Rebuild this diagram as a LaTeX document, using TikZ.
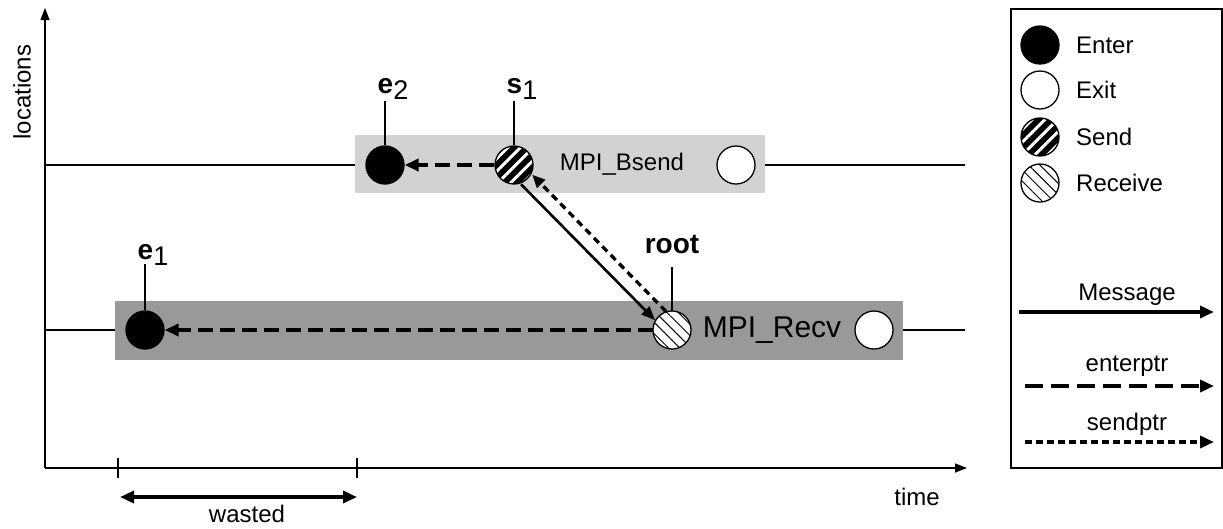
\documentclass[tikz,border=0pt]{standalone}
\usepackage{fontspec}
\setmainfont{Liberation Sans}
\usetikzlibrary{patterns.meta,arrows.meta}
\begin{document}
\begin{tikzpicture}[x=1pt,y=-1pt,
  ev/.style={circle, draw=black, line width=1.3pt, minimum size=38pt, inner sep=0pt},
  enterev/.style={ev, fill=black},
  exitev/.style={ev, fill=white},
  sendev/.style={ev, preaction={fill=black}, pattern={Lines[angle=45,distance=9pt,line width=3pt]}, pattern color=white},
  recvev/.style={ev, preaction={fill=white}, pattern={Lines[angle=-45,distance=8pt,line width=1pt]}, pattern color=black},
  txt/.style={font=\fontsize{24}{28}\selectfont, inner sep=0pt},
  lab/.style={font=\fontsize{28}{30}\selectfont\bfseries, inner sep=0pt},
  axis/.style={line width=1.3pt, -{Triangle[length=12pt,width=9pt]}},
  thin/.style={line width=1.2pt},
  msg/.style={line width=2.6pt, -{Triangle[length=14pt,width=11pt]}},
  enterptr/.style={line width=4pt, dash pattern=on 15pt off 7pt, -{Triangle[length=14pt,width=12pt]}},
  sendptr/.style={line width=3.3pt, dash pattern=on 7pt off 5pt, -{Triangle[length=13pt,width=11pt]}},
  sendptrleg/.style={line width=4pt, dash pattern=on 7pt off 4pt, -{Triangle[length=14pt,width=12pt]}},
  enterptrleg/.style={line width=4pt, dash pattern=on 18pt off 8pt, -{Triangle[length=14pt,width=12pt]}},
  msgleg/.style={line width=4pt, -{Triangle[length=14pt,width=12pt]}}
]
\useasboundingbox (0,0) rectangle (1223,528);
% axes
\coordinate (O) at (45,468);
\coordinate (ytop) at (45,8);
\coordinate (xend) at (967,468);
\draw[axis] (O) -- (ytop);
\draw[axis] (O) -- (xend);
\node[txt, rotate=90] (loc) at (22,92) {locations};
\node[txt] (time) at (917,497) {time};
% location lines
\coordinate (l1a) at (45,165); \coordinate (l1b) at (965,165);
\coordinate (l2a) at (45,330); \coordinate (l2b) at (965,330);
\draw[thin] (l1a) -- (l1b);
\draw[thin] (l2a) -- (l2b);
% gray boxes
\fill[gray!35] (355,135) rectangle (765,193);
\fill[black!40] (115,301) rectangle (903,360);
% events
\node[enterev] (e2) at (385,165) {};
\node[sendev] (s1) at (514,165) {};
\node[txt] (bsend) at (622,164) {MPI\_Bsend};
\node[exitev] (x2) at (736,165) {};
\node[enterev] (e1) at (145,330) {};
\node[recvev] (recv) at (672,330) {};
\node[txt, font=\fontsize{30}{34}\selectfont] (mrecv) at (772,330) {MPI\_Recv};
\node[exitev] (x1) at (874,330) {};
% labels
\node[lab] (e2lab) at (393,89) {e\raisebox{-6pt}{\fontsize{27}{30}\mdseries\selectfont 2}};
\node[lab] (s1lab) at (522,89) {s\raisebox{-6pt}{\fontsize{27}{30}\mdseries\selectfont 1}};
\node[lab] (e1lab) at (153,255) {e\raisebox{-6pt}{\fontsize{27}{30}\mdseries\selectfont 1}};
\node[lab] (rootlab) at (672,244) {root};
\draw[thin] (e2.north) -- ++(0,-44);
\draw[thin] (s1.north) -- ++(0,-44);
\draw[thin] (e1.north) -- ++(0,-46);
\draw[thin] (recv.north) -- ++(0,-44);
% pointers
\draw[enterptr] (s1.west) -- (e2.east);
\draw[enterptr] (recv.west) -- (e1.east);
\draw[msg] (s1.-70) -- (recv.150);
\draw[sendptr] (recv.108) -- (s1.-28);
% wasted
\coordinate (t1) at (118,468); \coordinate (t2) at (357,468);
\draw[thin] (t1) ++(0,-10) -- ++(0,20);
\draw[thin] (t2) ++(0,-10) -- ++(0,20);
\coordinate (w1) at (120,497); \coordinate (w2) at (357,497);
\draw[line width=4pt, {Triangle[length=14pt,width=12pt]}-{Triangle[length=14pt,width=12pt]}] (w1) -- (w2);
\node[txt] (wasted) at (247,514) {wasted};
% legend
\draw[thin] (1011,9) rectangle (1222,468);
\node[enterev] (le) at (1040,45) {};
\node[exitev] (lx) at (1040,90) {};
\node[sendev] (ls) at (1040,137) {};
\node[recvev] (lr) at (1040,183) {};
\node[txt, anchor=west] at (1076,45) {Enter};
\node[txt, anchor=west] at (1076,90) {Exit};
\node[txt, anchor=west] at (1076,137) {Send};
\node[txt, anchor=west] at (1076,183) {Receive};
\coordinate (m1) at (1019,312); \coordinate (m2) at (1214,312);
\draw[msgleg] (m1) -- (m2);
\node[txt] at (1127,295) {Message};
\coordinate (n1) at (1025,386); \coordinate (n2) at (1214,386);
\draw[enterptrleg] (n1) -- (n2);
\node[txt] at (1127,366) {enterptr};
\coordinate (p1) at (1025,442); \coordinate (p2) at (1214,442);
\draw[sendptrleg] (p1) -- (p2);
\node[txt] at (1127,424) {sendptr};
\end{tikzpicture}
\end{document}
